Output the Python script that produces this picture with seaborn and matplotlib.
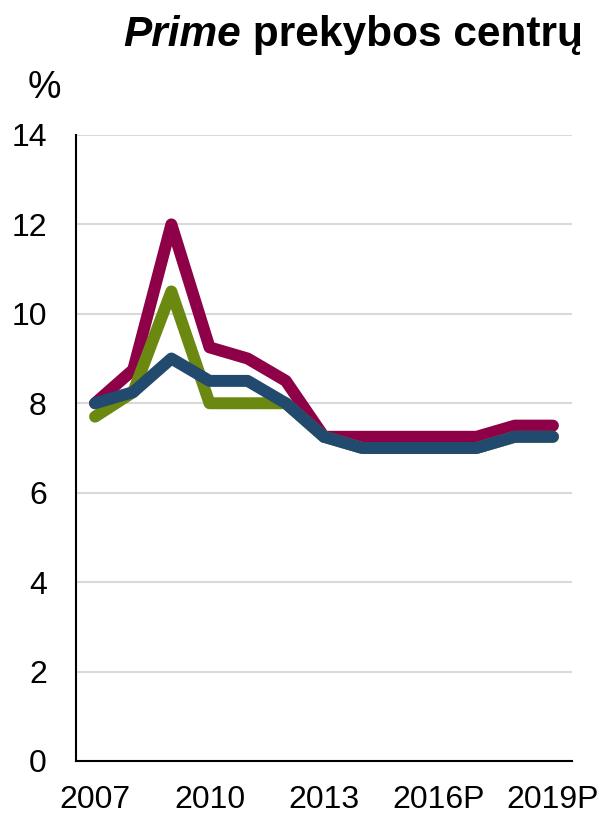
import matplotlib
matplotlib.use("Agg")
import matplotlib.pyplot as plt
import seaborn as sns
import pandas as pd

# Yield series, %
years = ["2007", "2008", "2009", "2010", "2011", "2012", "2013",
         "2014", "2015", "2016P", "2017P", "2018P", "2019P"]
series_red = [8.0, 8.75, 12.0, 9.25, 9.0, 8.5, 7.25, 7.25, 7.25, 7.25, 7.25, 7.5, 7.5]
series_green = [7.7, 8.25, 10.5, 8.0, 8.0, 8.0, 7.25, 7.0, 7.0, 7.0, 7.0, 7.25, 7.25]
series_blue = [8.0, 8.25, 9.0, 8.5, 8.5, 8.0, 7.25, 7.0, 7.0, 7.0, 7.0, 7.25, 7.25]
tick_labels = ["2007", "2010", "2013", "2016P", "2019P"]
y_ticks = [0, 2, 4, 6, 8, 10, 12, 14]

sns.set_theme(style="white")
plt.rcParams["font.family"] = ["Liberation Sans", "DejaVu Sans"]
plt.rcParams["text.color"] = "black"

rows = []
for name, vals in (("red", series_red), ("green", series_green), ("blue", series_blue)):
    for i, v in enumerate(vals):
        rows.append({"idx": i, "year": years[i], "value": v, "series": name})
df = pd.DataFrame(rows)

palette = {"red": "#8E0047", "green": "#6B8810", "blue": "#224A6E"}

fig = plt.figure(figsize=(6.03, 8.13), dpi=100)
ax = fig.add_axes([0.126, 0.064, 0.8226, 0.770])

sns.lineplot(data=df, x="idx", y="value", hue="series",
             hue_order=["red", "green", "blue"], palette=palette,
             linewidth=8.6, legend=False, ax=ax,
             solid_capstyle="round", solid_joinstyle="round")

ax.set_xlim(-0.5, 12.5)
ax.set_ylim(0, 14)
ax.set_yticks(y_ticks)
ax.set_yticklabels([str(t) for t in y_ticks])
ax.set_xticks([years.index(t) for t in tick_labels])
ax.set_xticklabels(tick_labels)
ax.set_xlabel("")
ax.set_ylabel("")
ax.tick_params(axis="both", length=0, labelsize=23, colors="black")
ax.tick_params(axis="y", pad=21)
ax.tick_params(axis="x", pad=17)

ax.grid(axis="y", color="#D9D9D9", linewidth=1.5)
ax.set_axisbelow(True)
for s in ("top", "right"):
    ax.spines[s].set_visible(False)
for s in ("left", "bottom"):
    ax.spines[s].set_color("black")
    ax.spines[s].set_linewidth(1.5)

# Title: italic "Prime" followed by upright text, right-aligned
t2 = fig.text(0.967, 0.943, " prekybos centrų", ha="right", va="baseline",
              fontsize=30.5, fontweight="bold", color="black")
fig.canvas.draw()
bb = t2.get_window_extent(renderer=fig.canvas.get_renderer())
x_left = bb.x0 / fig.bbox.width
fig.text(x_left, 0.943, "Prime", ha="right", va="baseline", fontsize=30.5,
         fontweight="bold", fontstyle="italic", color="black")

fig.text(0.046, 0.8795, "%", ha="left", va="baseline", fontsize=27, color="black")

fig.savefig("out.png", dpi=100)
